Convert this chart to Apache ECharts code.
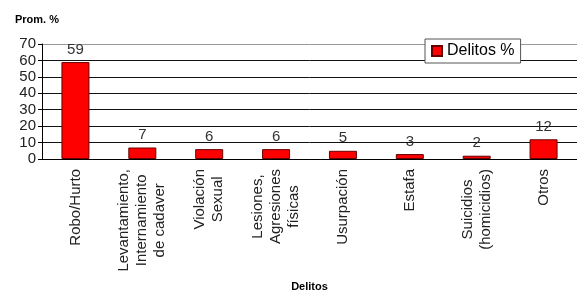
<!DOCTYPE html>
<html>
<head>
<meta charset="utf-8">
<script src="https://cdn.jsdelivr.net/npm/echarts@6/dist/echarts.min.js"></script>
<style>
  html, body { margin: 0; padding: 0; background: #fff; }
  #chart { width: 577px; height: 293px; }
</style>
</head>
<body>
<div id="chart"></div>
<script>
// chart data
let categories = [
  'Robo/Hurto',
  'Levantamiento,\nInternamiento\nde cadaver',
  'Violación\nSexual',
  'Lesiones,\nAgresiones\nfísicas',
  'Usurpación',
  'Estafa',
  'Suicidios\n(homicidios)',
  'Otros'
]
let delitos = [59, 7, 6, 6, 5, 3, 2, 12]
let yTicks = [0, 10, 20, 30, 40, 50, 60, 70]

let chartsInstance = echarts.init(document.getElementById('chart'))
let font = '"Liberation Sans", Arial, sans-serif'

let option = {
  animation: false,
  textStyle: { fontFamily: font },
  title: {
    text: 'Prom. %',
    left: 10,
    top: 9,
    textStyle: { fontSize: 11, fontWeight: 'bold', color: '#000', fontFamily: font }
  },
  legend: {
    data: ['Delitos %'],
    icon: 'rect',
    left: 425,
    top: 39,
    padding: [4, 6, 4, 6],
    borderColor: '#555',
    borderWidth: 1,
    backgroundColor: '#fff',
    itemWidth: 10,
    itemHeight: 10,
    itemGap: 4,
    textStyle: { fontSize: 16, color: '#000', fontFamily: font }
  },
  grid: {
    left: 42,
    right: 0,
    top: 44,
    bottom: 134,
    containLabel: false,
    outerBoundsMode: 'none'
  },
  xAxis: {
    type: 'category',
    data: categories,
    name: 'Delitos',
    nameLocation: 'middle',
    nameGap: 122,
    nameTextStyle: { fontSize: 11, fontWeight: 'bold', color: '#000', fontFamily: font },
    axisLine: { lineStyle: { color: '#000' } },
    axisTick: { length: 4, lineStyle: { color: '#000' } },
    axisLabel: {
      rotate: 90,
      margin: 10,
      fontSize: 15,
      lineHeight: 18,
      color: '#222',
      formatter: function (v) {
        return v.split('\n').map(function (s) { return '{c|' + s + '}' }).join('\n')
      },
      rich: {
        c: { align: 'center', fontSize: 15, lineHeight: 18, color: '#222', fontFamily: font }
      }
    }
  },
  yAxis: {
    type: 'value',
    min: yTicks[0],
    max: yTicks[yTicks.length - 1],
    interval: 10,
    axisLine: { show: true, lineStyle: { color: '#000' } },
    axisTick: { show: true, length: 4, lineStyle: { color: '#000' } },
    axisLabel: { fontSize: 15, color: '#222', margin: 6 },
    splitLine: {
      lineStyle: {
        color: ['#111', '#111', '#111', '#111', '#111', '#111', '#111', '#999'],
        width: 1
      }
    }
  },
  series: [
    {
      name: 'Delitos %',
      type: 'bar',
      data: delitos,
      barWidth: 28,
      itemStyle: { color: '#ff0000', borderColor: '#600', borderWidth: 1 },
      label: {
        show: true,
        position: 'top',
        distance: 5,
        fontSize: 15,
        color: '#333',
        fontFamily: font
      }
    }
  ]
}
chartsInstance.setOption(option)
</script>
</body>
</html>
